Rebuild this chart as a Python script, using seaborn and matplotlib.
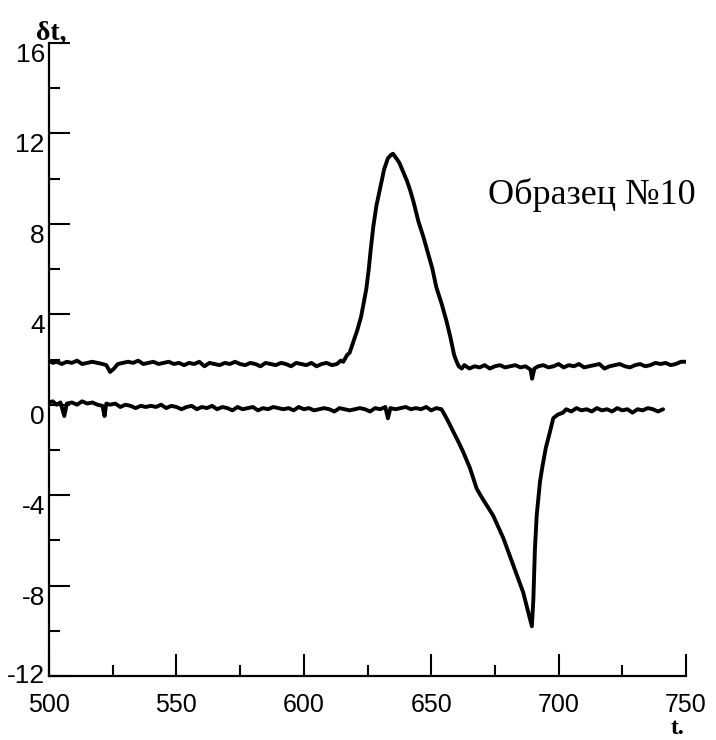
import matplotlib
matplotlib.use("Agg")
import matplotlib.pyplot as plt
import seaborn as sns
import pandas as pd
from matplotlib.ticker import MultipleLocator

# ---- data ----
upper_t = [500, 501.5, 503, 505, 507, 509, 511, 513, 515, 517, 519, 521, 522.5, 524, 525.5,
           527, 529, 531, 533, 535, 537, 539, 541, 543, 545, 547, 549, 551, 553, 555, 557,
           559, 561, 563, 565, 567, 569, 571, 573, 575, 577, 579, 581, 583, 585, 587, 589,
           591, 593, 595, 597, 599, 601, 603, 605, 607, 609, 611, 613, 614.5, 615.5,
           617, 618, 619.5, 621, 622.5, 623.5, 624.5, 625.5, 626.3, 627.3, 628.5, 630,
           631.5, 633, 634.2, 635, 636, 637.5, 639, 640.5, 641.7, 643, 645, 647, 649,
           650.5, 652, 654, 656, 657.5, 659, 660, 660.8, 662, 663, 665, 667, 669, 671,
           673, 675, 677, 679, 681, 683, 685, 687, 689, 689.6, 690.5, 692, 694, 696, 698,
           700, 702, 704, 706, 708, 710, 712, 714, 716, 718, 720, 722, 724, 726, 728, 730,
           732, 734, 736, 738, 740, 742, 744, 746, 748, 750]
upper_v = [1.95, 1.85, 1.9, 1.8, 1.9, 1.85, 1.95, 1.8, 1.85, 1.9, 1.85, 1.8, 1.75, 1.45, 1.6,
           1.8, 1.85, 1.9, 1.85, 1.95, 1.8, 1.85, 1.9, 1.8, 1.85, 1.9, 1.8, 1.85, 1.75, 1.85, 1.8,
           1.9, 1.7, 1.85, 1.8, 1.75, 1.85, 1.8, 1.9, 1.8, 1.75, 1.85, 1.8, 1.7, 1.85, 1.8, 1.75,
           1.85, 1.8, 1.7, 1.85, 1.8, 1.75, 1.85, 1.7, 1.8, 1.85, 1.75, 1.8, 1.95, 1.9,
           2.2, 2.3, 2.8, 3.3, 3.9, 4.5, 5.1, 6.0, 6.9, 7.9, 8.8, 9.6,
           10.4, 10.9, 11.05, 11.1, 10.95, 10.7, 10.3, 9.9, 9.5, 9.0, 8.1, 7.4, 6.6,
           6.0, 5.2, 4.5, 3.7, 3.0, 2.2, 1.9, 1.7, 1.6, 1.75, 1.6, 1.7, 1.65, 1.75,
           1.6, 1.7, 1.75, 1.65, 1.7, 1.75, 1.65, 1.7, 1.55, 1.15, 1.6, 1.7, 1.75, 1.65, 1.7,
           1.8, 1.65, 1.75, 1.7, 1.8, 1.65, 1.7, 1.75, 1.8, 1.6, 1.7, 1.75, 1.8, 1.7, 1.65, 1.75,
           1.8, 1.7, 1.75, 1.85, 1.8, 1.85, 1.75, 1.8, 1.9, 1.9]

lower_t = [500, 501.5, 503, 504.5, 506, 507, 509, 511, 513, 515, 517, 519, 521, 521.8, 522.5,
           524, 526, 528, 530, 532, 534, 536, 538, 540, 542, 544, 546, 548, 550, 552, 554,
           556, 558, 560, 562, 564, 566, 568, 570, 572, 574, 576, 578, 580, 582, 584, 586,
           588, 590, 592, 594, 596, 598, 600, 602, 604, 606, 608, 610, 612, 614, 616, 618,
           620, 622, 624, 626, 628, 630, 632, 633, 634, 636, 638, 640, 642, 644, 646, 648,
           650, 652, 654, 654.8, 656.5, 658.7, 660.5, 662.6, 665.2, 667.8, 668.8, 670.4,
           674.3, 678.3, 682.2, 686.1, 689.5, 690.1, 690.7, 691.4, 692.7, 693.7, 695.0,
           696.6, 697.9, 699.5, 701.7, 703, 705, 707, 709, 711, 713, 715, 717, 719, 721,
           723, 725, 727, 729, 731, 733, 735, 737, 739, 741]
lower_v = [0.1, 0.15, 0.0, 0.1, -0.5, 0.05, 0.1, 0.0, 0.15, 0.05, 0.1, 0.0, -0.05, -0.5, 0.05,
           0.0, 0.05, -0.1, 0.0, -0.05, -0.15, -0.05, -0.1, -0.05, -0.1, 0.0, -0.15, -0.05, -0.1, -0.2, -0.1,
           -0.05, -0.2, -0.1, -0.15, -0.05, -0.2, -0.1, -0.15, -0.25, -0.1, -0.2, -0.15, -0.1, -0.25, -0.15, -0.2,
           -0.1, -0.15, -0.2, -0.15, -0.25, -0.1, -0.2, -0.15, -0.25, -0.2, -0.15, -0.2, -0.3, -0.15, -0.2, -0.25,
           -0.2, -0.15, -0.2, -0.3, -0.15, -0.2, -0.1, -0.6, -0.15, -0.2, -0.15, -0.1, -0.2, -0.15, -0.2, -0.1,
           -0.25, -0.15, -0.2, -0.35, -0.7, -1.2, -1.6, -2.1, -2.8, -3.7, -3.9, -4.2,
           -4.9, -5.9, -7.1, -8.3, -9.8, -8.6, -6.4, -4.9, -3.4, -2.7, -1.9,
           -1.2, -0.6, -0.45, -0.35, -0.2, -0.3, -0.15, -0.25, -0.2, -0.3, -0.15, -0.25, -0.2, -0.3,
           -0.15, -0.25, -0.2, -0.35, -0.2, -0.25, -0.15, -0.2, -0.3, -0.2]

y_ticks = [-12, -8, -4, 0, 4, 8, 12, 16]
x_ticks = [500, 550, 600, 650, 700, 750]
x_tick_labels = ["500", "550", "600", "650", "700", "750"]
sample_label = "Образец №10"

# ---- figure ----
sns.set_theme(style="ticks")
plt.rcParams["font.family"] = ["Liberation Sans", "DejaVu Sans"]

fig = plt.figure(figsize=(7.16, 7.40), dpi=100)
fig.patch.set_facecolor("white")
ax = fig.add_axes([49 / 716, (740 - 676) / 740, (686 - 49) / 716, (676 - 43) / 740])
ax.set_facecolor("white")

df_u = pd.DataFrame({"t": upper_t, "dt": upper_v})
df_l = pd.DataFrame({"t": lower_t, "dt": lower_v})
sns.lineplot(data=df_u, x="t", y="dt", ax=ax, color="black", lw=2.8,
             estimator=None, sort=False)
sns.lineplot(data=df_l, x="t", y="dt", ax=ax, color="black", lw=2.8,
             estimator=None, sort=False)

ax.set_xlim(500, 750)
ax.set_ylim(-12, 16)
ax.set_xlabel("")
ax.set_ylabel("")

for s in ["top", "right"]:
    ax.spines[s].set_visible(False)
for s in ["left", "bottom"]:
    ax.spines[s].set_color("black")
    ax.spines[s].set_linewidth(1.6)

ax.set_yticks(y_ticks)
ax.set_yticklabels([str(v) for v in y_ticks])
ax.set_xticks(x_ticks)
ax.set_xticklabels(x_tick_labels)
ax.yaxis.set_minor_locator(MultipleLocator(2))
ax.xaxis.set_minor_locator(MultipleLocator(25))

ax.tick_params(axis="y", which="major", direction="in", length=15, width=1.5,
               color="black", labelsize=19, pad=3, labelcolor="black")
ax.tick_params(axis="y", which="minor", direction="in", length=8, width=1.5, color="black")
ax.tick_params(axis="x", which="major", direction="in", length=16, width=1.5,
               color="black", labelsize=18, pad=12, labelcolor="black")
ax.tick_params(axis="x", which="minor", direction="in", length=8, width=1.5, color="black")
ylabs = ax.get_yticklabels()
for lab in ylabs:
    lab.set_verticalalignment("top")
ylabs[0].set_verticalalignment("center")

ax.text((488 - 49) / 637, (676 - 195) / 633, sample_label, transform=ax.transAxes,
        fontsize=26, family=["Liberation Serif", "DejaVu Serif"], color="black",
        ha="left", va="center")

fig.text(51 / 716, 1 - 33 / 740, "δt,", fontsize=20, fontweight="bold",
         family=["Liberation Serif", "DejaVu Serif"], ha="center", va="center", color="black")
fig.text(678 / 716, 1 - 729 / 740, "t.", fontsize=17, fontweight="bold",
         family=["Liberation Serif", "DejaVu Serif"], ha="center", va="center", color="black")

fig.savefig("out.png", dpi=100, facecolor="white")
